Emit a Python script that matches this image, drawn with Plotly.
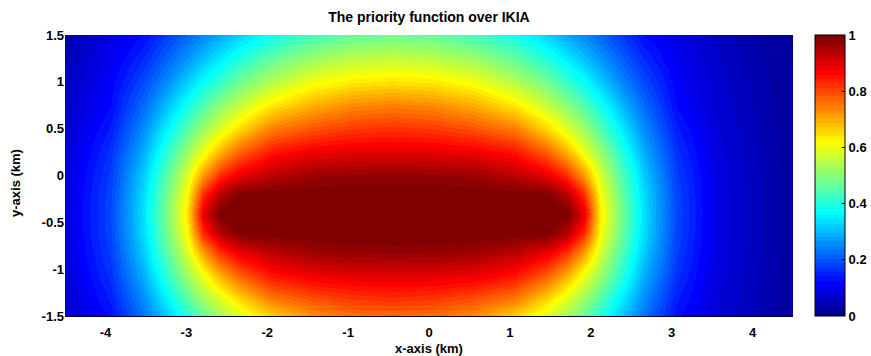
import plotly.graph_objects as go

# ---- data ----
x_km = [-4.5, -3.94, -3.54, -3.24, -2.99, -2.79, -2.59, -2.34, -1.94, -1.44, -0.94, -0.44,
        0.06, 0.56, 1.06, 1.46, 1.71, 1.91, 2.11, 2.36, 2.66, 3.06, 3.56, 4.06, 4.5]
y_km = [-1.5, -1.31, -1.06, -0.81, -0.61, -0.41, -0.21, -0.01, 0.24, 0.49, 0.74, 0.99, 1.24, 1.5]

row_m150 = [0.070, 0.129, 0.229, 0.320, 0.402, 0.466, 0.524, 0.585, 0.663, 0.727, 0.757, 0.763, 0.757, 0.727, 0.663, 0.585, 0.524, 0.466, 0.402, 0.320, 0.229, 0.129, 0.077, 0.045, 0.017]
row_m131 = [0.072, 0.144, 0.255, 0.361, 0.453, 0.525, 0.588, 0.660, 0.752, 0.793, 0.817, 0.825, 0.817, 0.793, 0.752, 0.660, 0.588, 0.525, 0.453, 0.361, 0.255, 0.144, 0.080, 0.047, 0.018]
row_m106 = [0.080, 0.162, 0.289, 0.412, 0.521, 0.603, 0.695, 0.778, 0.853, 0.886, 0.895, 0.897, 0.895, 0.886, 0.853, 0.778, 0.695, 0.603, 0.521, 0.412, 0.289, 0.162, 0.085, 0.050, 0.019]
row_m081 = [0.085, 0.175, 0.317, 0.456, 0.580, 0.719, 0.829, 0.894, 0.937, 0.966, 0.975, 0.977, 0.975, 0.966, 0.937, 0.894, 0.829, 0.719, 0.580, 0.456, 0.317, 0.175, 0.088, 0.052, 0.020]
row_m061 = [0.087, 0.182, 0.332, 0.480, 0.617, 0.828, 0.941, 1, 1, 1, 1, 1, 1, 1, 1, 1, 0.941, 0.828, 0.617, 0.480, 0.332, 0.182, 0.090, 0.053, 0.020]
row_m041 = [0.088, 0.184, 0.337, 0.489, 0.638, 0.894, 1, 1, 1, 1, 1, 1, 1, 1, 1, 1, 1, 0.894, 0.638, 0.489, 0.337, 0.184, 0.090, 0.053, 0.020]
row_m021 = [0.087, 0.182, 0.332, 0.480, 0.617, 0.828, 0.941, 1, 1, 1, 1, 1, 1, 1, 1, 1, 0.941, 0.828, 0.617, 0.480, 0.332, 0.182, 0.090, 0.053, 0.020]
row_m001 = [0.085, 0.175, 0.317, 0.456, 0.580, 0.719, 0.829, 0.894, 0.937, 0.966, 0.975, 0.977, 0.975, 0.966, 0.937, 0.894, 0.829, 0.719, 0.580, 0.456, 0.317, 0.175, 0.088, 0.052, 0.020]
row_p024 = [0.080, 0.162, 0.289, 0.412, 0.521, 0.603, 0.695, 0.778, 0.853, 0.886, 0.895, 0.897, 0.895, 0.886, 0.853, 0.778, 0.695, 0.603, 0.521, 0.412, 0.289, 0.162, 0.085, 0.050, 0.019]
row_p049 = [0.072, 0.144, 0.255, 0.361, 0.453, 0.525, 0.588, 0.660, 0.752, 0.793, 0.817, 0.825, 0.817, 0.793, 0.752, 0.660, 0.588, 0.525, 0.453, 0.361, 0.255, 0.144, 0.080, 0.047, 0.018]
row_p074 = [0.064, 0.124, 0.221, 0.308, 0.386, 0.447, 0.506, 0.563, 0.641, 0.700, 0.734, 0.745, 0.734, 0.700, 0.641, 0.563, 0.506, 0.447, 0.386, 0.308, 0.221, 0.124, 0.075, 0.044, 0.017]
row_p099 = [0.055, 0.114, 0.188, 0.257, 0.322, 0.375, 0.423, 0.481, 0.548, 0.609, 0.640, 0.649, 0.640, 0.609, 0.548, 0.481, 0.423, 0.375, 0.322, 0.257, 0.188, 0.114, 0.070, 0.040, 0.016]
row_p124 = [0.045, 0.102, 0.156, 0.214, 0.266, 0.308, 0.350, 0.399, 0.465, 0.522, 0.551, 0.561, 0.551, 0.522, 0.465, 0.399, 0.350, 0.308, 0.266, 0.214, 0.156, 0.102, 0.064, 0.036, 0.015]
row_p150 = [0.035, 0.090, 0.125, 0.175, 0.217, 0.250, 0.284, 0.324, 0.382, 0.433, 0.466, 0.477, 0.466, 0.433, 0.382, 0.324, 0.284, 0.250, 0.217, 0.175, 0.125, 0.090, 0.057, 0.031, 0.013]

priority = [row_m150, row_m131, row_m106, row_m081, row_m061, row_m041, row_m021,
            row_m001, row_p024, row_p049, row_p074, row_p099, row_p124, row_p150]

x_ticks = [-4, -3, -2, -1, 0, 1, 2, 3, 4]
x_tick_text = ["-4", "-3", "-2", "-1", "0", "1", "2", "3", "4"]
y_ticks = [-1.5, -1, -0.5, 0, 0.5, 1, 1.5]
y_tick_text = ["-1.5", "-1", "-0.5", "0", "0.5", "1", "1.5"]
cb_ticks = [0, 0.2, 0.4, 0.6, 0.8, 1]
cb_tick_text = ["0", "0.2", "0.4", "0.6", "0.8", "1"]

# ---- MATLAB-style 64-step jet colour scale ----
def _jet(t):
    def c(v):
        return max(0.0, min(1.0, v))
    r = c(1.5 - abs(4 * t - 3))
    g = c(1.5 - abs(4 * t - 2))
    b = c(1.5 - abs(4 * t - 1))
    return "rgb(%d,%d,%d)" % (round(r * 255), round(g * 255), round(b * 255))

N = 64
jet_scale = []
for i in range(N):
    col = _jet((i + 1) / N)
    jet_scale.append([i / N, col])
    jet_scale.append([(i + 1) / N, col])

W, H = 871, 356
L, R, T, B = 65, 78, 35, 40
PW = W - L - R
PH = H - T - B

FONT = "Liberation Sans, Arial, Helvetica, sans-serif"
bold = dict(family=FONT, size=13, color="black", weight="bold")
bold_big = dict(family=FONT, size=14, color="black", weight="bold")

fig = go.Figure(go.Heatmap(
    x=x_km, y=y_km, z=priority,
    zmin=0, zmax=1, zsmooth="best",
    colorscale=jet_scale,
    colorbar=dict(
        thickness=30, len=1, lenmode="fraction", y=0.5, yanchor="middle",
        x=(815 - L) / PW, xanchor="left", xpad=0, ypad=0,
        outlinewidth=1, outlinecolor="black",
        tickvals=cb_ticks, ticktext=cb_tick_text,
        ticks="inside", ticklen=3, tickcolor="black",
        tickfont=bold,
    ),
))

fig.update_layout(
    width=W, height=H,
    margin=dict(l=L, r=R, t=T, b=B, autoexpand=False),
    paper_bgcolor="white", plot_bgcolor="white",
    title=dict(text="The priority function over IKIA", x=0.5, xref="paper",
               y=1 - 17 / H, yref="container", yanchor="middle",
               font=bold_big),
    xaxis=dict(range=[-4.5, 4.5], tickvals=x_ticks, ticktext=x_tick_text,
               tickfont=bold, showgrid=False, zeroline=False,
               ticks="outside", ticklen=4, tickcolor="rgba(0,0,0,0)",
               showline=True, linecolor="#00003a", linewidth=1),
    yaxis=dict(range=[-1.5, 1.5], tickvals=y_ticks, ticktext=y_tick_text,
               tickfont=bold, showgrid=False, zeroline=False,
               ticks="", ticklen=0),
    annotations=[
        dict(text="x-axis (km)", xref="paper", yref="paper", x=0.5,
             y=-(348 - (H - B)) / PH, xanchor="center", yanchor="middle",
             showarrow=False, font=bold),
        dict(text="y-axis (km)", xref="paper", yref="paper",
             x=-(L - 15) / PW, y=1 - (183 - T) / PH,
             xanchor="center", yanchor="middle", textangle=-90,
             showarrow=False, font=bold),
    ],
)

fig.write_html("out.html")
